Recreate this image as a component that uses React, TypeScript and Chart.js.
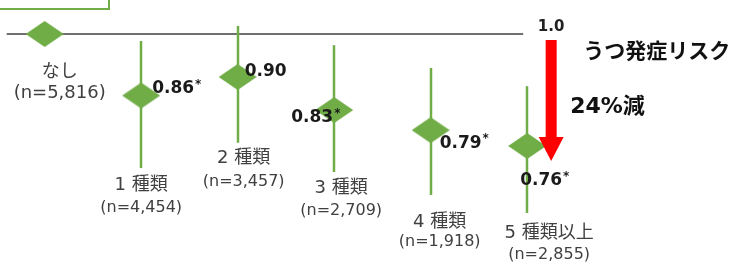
import React, { useEffect, useRef } from 'react';
import { Chart, registerables } from 'chart.js';

Chart.register(...registerables);

// ---------- data ----------
const categories = ['なし', '1 種類', '2 種類', '3 種類', '4 種類', '5 種類以上'];
const sampleSizes = ['(n=5,816)', '(n=4,454)', '(n=3,457)', '(n=2,709)', '(n=1,918)', '(n=2,855)'];
const hazardRatios = [1.0, 0.86, 0.9, 0.83, 0.79, 0.76];
const ciLower: (number | null)[] = [null, 0.72, 0.766, 0.713, 0.674, 0.645];
const ciUpper: (number | null)[] = [null, 0.983, 1.02, 0.973, 0.92, 0.88];
const valueLabels = ['', '0.86', '0.90', '0.83', '0.79', '0.76'];
const significant = [false, true, false, true, true, true];
const referenceValue = 1.0;
const referenceLabel = '1.0';
const titleText = 'うつ発症リスク';
const reductionText = '24%減';

// ---------- layout / style ----------
const W = 738;
const H = 265;
const GREEN = '#70AD47';
const RED = '#FF0000';
const TEXT_GRAY = '#404040';
const TEXT_DARK = '#1a1a1a';
const FONT = "'DejaVu Sans', 'Noto Sans CJK JP', sans-serif";
const JP_FONT = "'Noto Sans CJK JP', sans-serif";

const valueLabelLayout: ({ dx: number; dy: number; align: 'left' | 'right' } | null)[] = [
  null,
  { dx: 11, dy: -7, align: 'left' },
  { dx: 7, dy: -5, align: 'left' },
  { dx: -1, dy: 8, align: 'right' },
  { dx: 9, dy: 13, align: 'left' },
  { dx: -7, dy: 35, align: 'left' },
];
const categoryLabelLayout = [
  { dx: 15, dy: 38, gap: 21, size1: 18, size2: 18 },
  { dx: 0, dy: 17, gap: 23, size1: 18, size2: 16 },
  { dx: 6, dy: 16, gap: 23, size1: 18, size2: 16 },
  { dx: 7, dy: 16, gap: 23, size1: 18, size2: 16 },
  { dx: 9, dy: 27, gap: 20, size1: 18, size2: 16 },
  { dx: 22, dy: 20, gap: 22, size1: 18, size2: 16 },
];

function makeDiamond(w: number, h: number, color: string) {
  const c = document.createElement('canvas');
  c.width = w;
  c.height = h;
  const g = c.getContext('2d')!;
  g.fillStyle = color;
  g.beginPath();
  g.moveTo(w / 2, 0);
  g.lineTo(w, h / 2);
  g.lineTo(w / 2, h);
  g.lineTo(0, h / 2);
  g.closePath();
  g.fill();
  return c;
}

const overlayPlugin = {
  id: 'overlay',
  beforeDatasetsDraw(chart: any) {
    const { ctx } = chart;
    const xs = chart.scales.x;
    const ys = chart.scales.y;
    ctx.save();
    // partial callout frame at top-left
    ctx.strokeStyle = GREEN;
    ctx.lineWidth = 2;
    ctx.strokeRect(-10, -20, 119, 29);
    // reference line
    const refY = ys.getPixelForValue(referenceValue);
    ctx.strokeStyle = TEXT_GRAY;
    ctx.lineWidth = 1.3;
    ctx.beginPath();
    ctx.moveTo(xs.getPixelForValue(0) - 38, refY);
    ctx.lineTo(xs.getPixelForValue(categories.length - 1) - 4, refY);
    ctx.stroke();
    // confidence interval lines
    ctx.strokeStyle = GREEN;
    ctx.lineWidth = 2.5;
    categories.forEach((_, i) => {
      const lo = ciLower[i];
      const hi = ciUpper[i];
      if (lo == null || hi == null) return;
      const x = Math.round(xs.getPixelForValue(i));
      ctx.beginPath();
      ctx.moveTo(x, ys.getPixelForValue(hi));
      ctx.lineTo(x, ys.getPixelForValue(lo));
      ctx.stroke();
    });
    ctx.restore();
  },
  afterDatasetsDraw(chart: any) {
    const { ctx } = chart;
    const xs = chart.scales.x;
    const ys = chart.scales.y;
    ctx.save();
    ctx.textBaseline = 'middle';

    // value labels
    categories.forEach((_, i) => {
      const lay = valueLabelLayout[i];
      if (!lay || !valueLabels[i]) return;
      const px = xs.getPixelForValue(i) + lay.dx;
      const py = ys.getPixelForValue(hazardRatios[i]) + lay.dy;
      ctx.font = `bold 17px ${FONT}`;
      ctx.fillStyle = TEXT_DARK;
      const w = ctx.measureText(valueLabels[i]).width;
      const left = lay.align === 'left' ? px : px - w;
      ctx.textAlign = 'left';
      ctx.fillText(valueLabels[i], left, py);
      if (significant[i]) {
        ctx.font = `bold 12px ${FONT}`;
        ctx.fillText('*', left + w + 1, py - 4);
      }
    });

    // category labels
    categories.forEach((cat, i) => {
      const lay = categoryLabelLayout[i];
      const base = ciLower[i] ?? hazardRatios[i];
      const cx = xs.getPixelForValue(i) + lay.dx;
      const cy = ys.getPixelForValue(base) + lay.dy;
      ctx.fillStyle = TEXT_GRAY;
      ctx.textAlign = 'center';
      ctx.font = `${lay.size1}px ${FONT}`;
      ctx.fillText(cat, cx, cy);
      ctx.font = `${lay.size2}px ${FONT}`;
      ctx.fillText(sampleSizes[i], cx, cy + lay.gap);
    });

    // reduction arrow
    const last = categories.length - 1;
    const ax = xs.getPixelForValue(last) + 24;
    const topY = ys.getPixelForValue(referenceValue) + 6;
    const minY = ys.getPixelForValue(hazardRatios[last]);
    const headY = minY - 9;
    const tipY = minY + 15;
    ctx.fillStyle = RED;
    ctx.beginPath();
    ctx.moveTo(ax - 5.5, topY);
    ctx.lineTo(ax + 5.5, topY);
    ctx.lineTo(ax + 5.5, headY);
    ctx.lineTo(ax + 12.5, headY);
    ctx.lineTo(ax, tipY);
    ctx.lineTo(ax - 12.5, headY);
    ctx.lineTo(ax - 5.5, headY);
    ctx.closePath();
    ctx.fill();

    // reference value label
    const refY = ys.getPixelForValue(referenceValue);
    ctx.fillStyle = '#222';
    ctx.textAlign = 'center';
    ctx.font = `bold 15px ${FONT}`;
    ctx.fillText(referenceLabel, ax, refY - 7);

    // title & reduction
    ctx.textAlign = 'left';
    ctx.fillStyle = '#111';
    ctx.font = `bold 21px ${JP_FONT}`;
    ctx.fillText(titleText, ax + 32, refY + 16);
    ctx.font = `bold 22px ${FONT}`;
    ctx.fillText(reductionText, ax + 19, refY + 73);

    ctx.restore();
  },
};

export default function App() {
  const ref = useRef<HTMLCanvasElement>(null);
  useEffect(() => {
    document.body.style.margin = '0';
    const canvas = ref.current!;
    const diamond = makeDiamond(38, 26, GREEN);
    const chart = new Chart(canvas, {
      type: 'scatter',
      data: {
        datasets: [
          {
            data: hazardRatios.map((v, i) => ({ x: i, y: v })),
            pointStyle: diamond as any,
            pointRadius: 13,
            pointHoverRadius: 13,
            backgroundColor: GREEN,
            borderColor: GREEN,
            showLine: false,
          },
        ],
      },
      options: {
        responsive: false,
        animation: false,
        devicePixelRatio: 1,
        layout: { padding: 0, autoPadding: false },
        plugins: { legend: { display: false }, tooltip: { enabled: false } },
        events: [],
        scales: {
          x: { type: 'linear', display: false, min: -0.463, max: 7.185, bounds: 'data' },
          y: { type: 'logarithmic', display: false, min: 0.5677, max: 1.0869, bounds: 'data' },
        },
      },
      plugins: [overlayPlugin],
    });
    return () => chart.destroy();
  }, []);
  return (
    <canvas
      ref={ref}
      width={W}
      height={H}
      style={{ position: 'fixed', left: 0, top: 0, width: W, height: H }}
    />
  );
}
